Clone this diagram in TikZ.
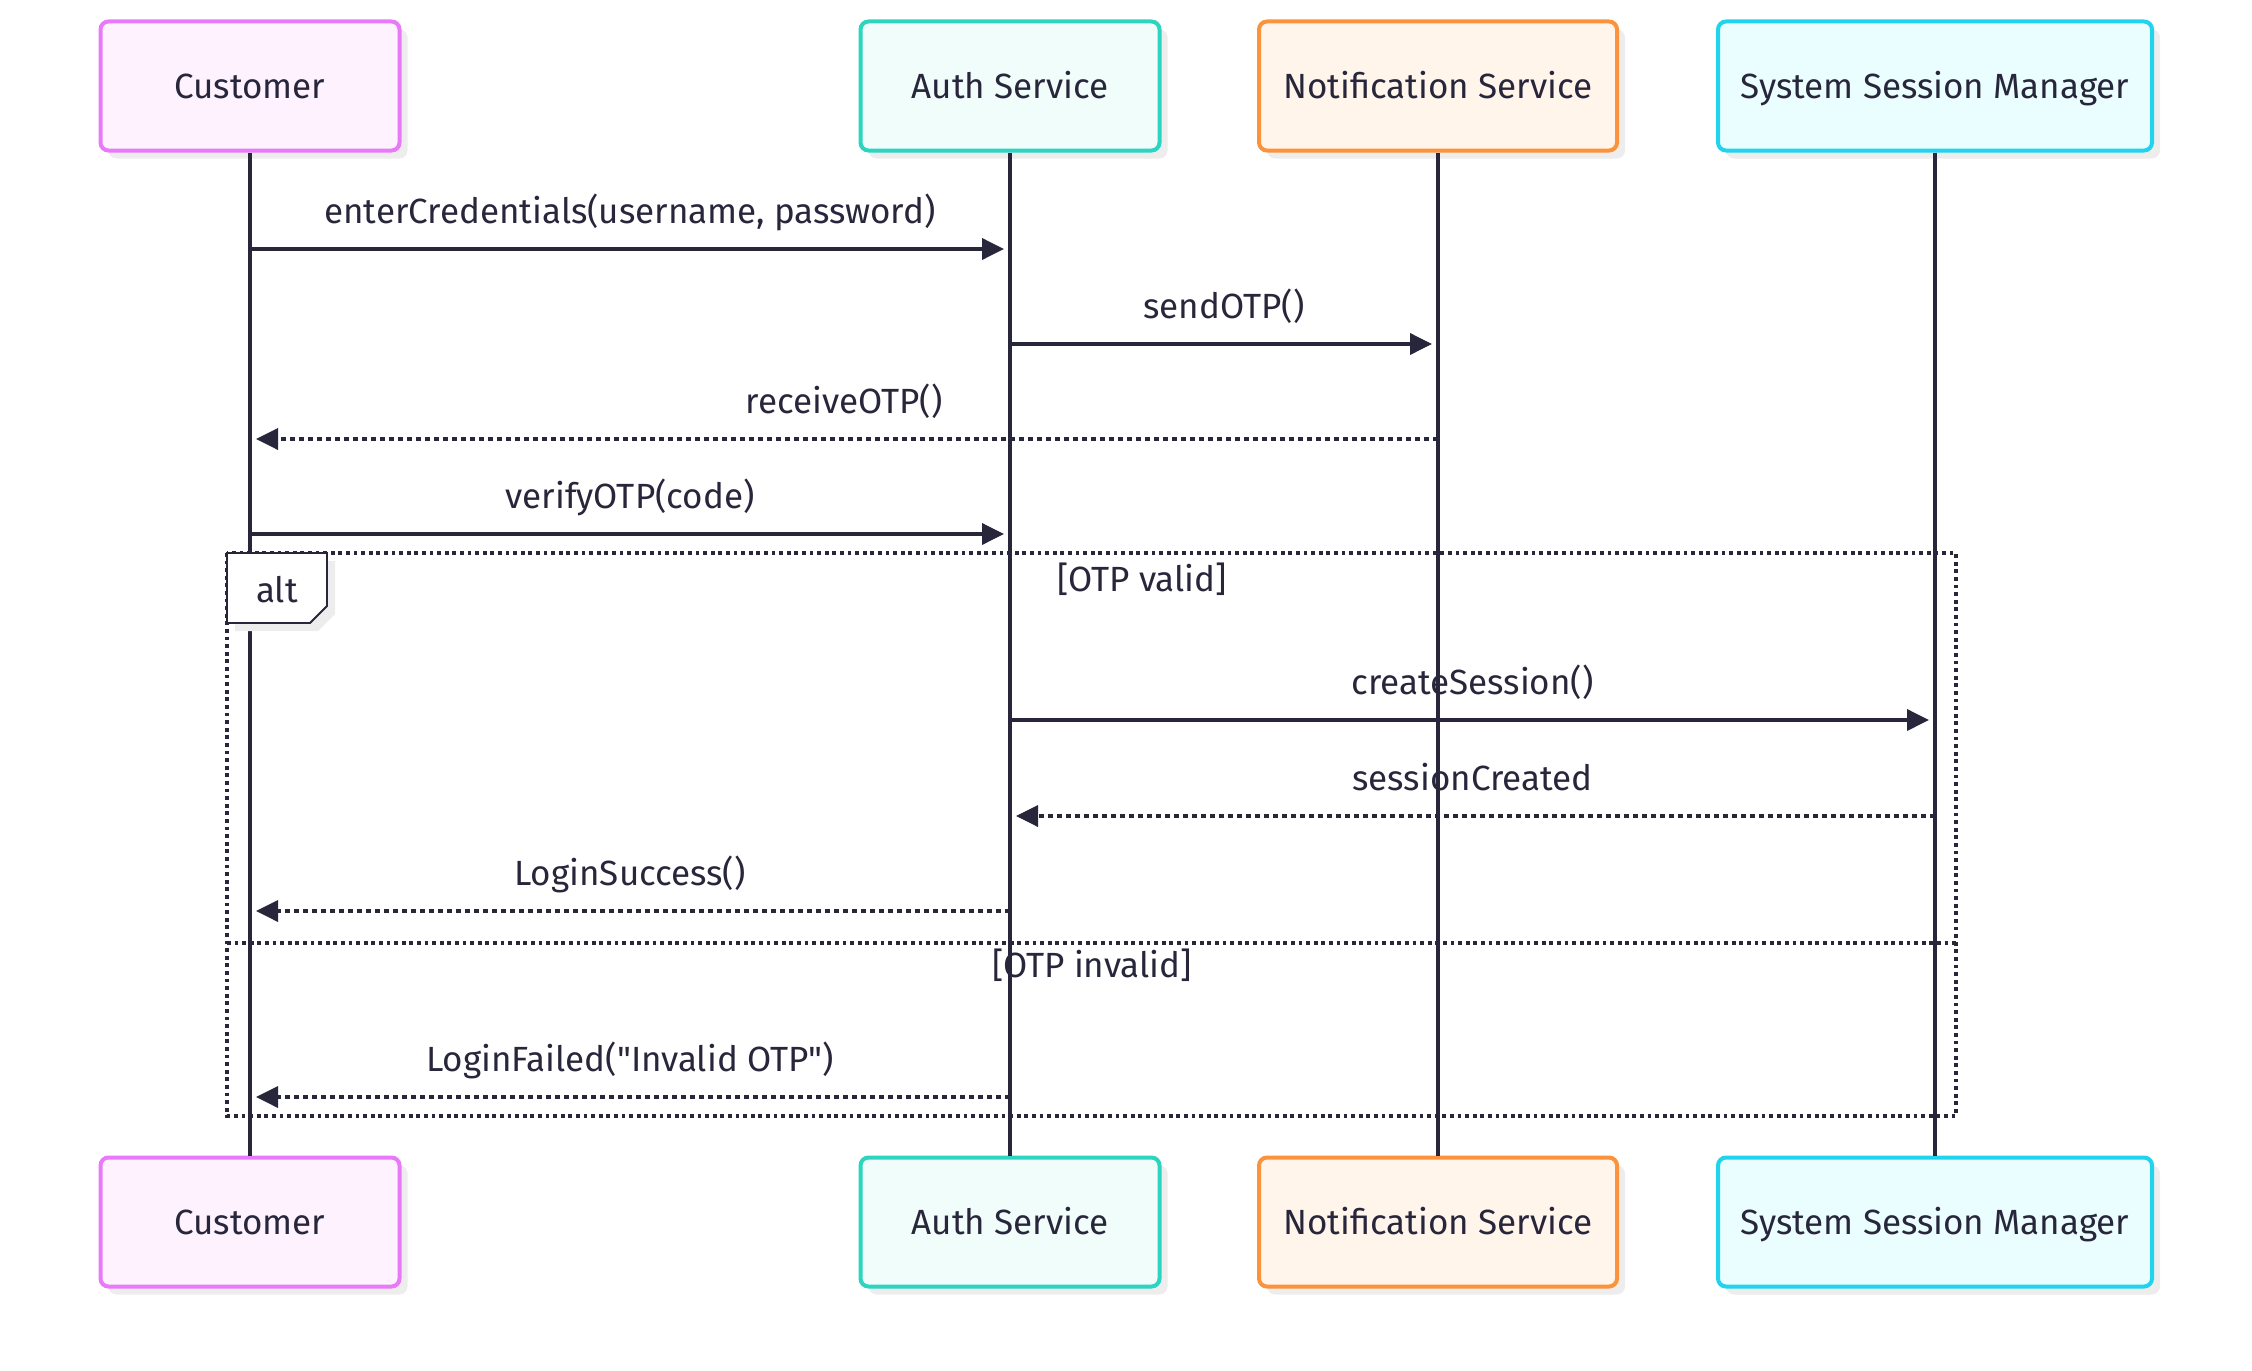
\documentclass[tikz,border=0pt]{standalone}
\usepackage{fontspec}
\setmainfont{Fira Sans}
\usetikzlibrary{positioning, arrows.meta, shadows}

\definecolor{ink}{HTML}{28263B}
\definecolor{custline}{HTML}{E879F9}
\definecolor{custfill}{HTML}{FDF2FE}
\definecolor{authline}{HTML}{2DD4BF}
\definecolor{authfill}{HTML}{F0FDFA}
\definecolor{notifline}{HTML}{FB923C}
\definecolor{notiffill}{HTML}{FFF5EB}
\definecolor{ssmline}{HTML}{22D3EE}
\definecolor{ssmfill}{HTML}{EBFEFF}

\begin{document}
\begin{tikzpicture}[x=0.5pt,y=-0.5pt,>={Triangle[length=11pt,width=10.5pt]},line width=1.8pt,ink,font=\fontsize{17.5}{21}\selectfont]
\tikzstyle{actor}=[draw,line width=2pt,rounded corners=4pt,minimum height=64.5pt,text height=12pt,text depth=0pt,text=ink,drop shadow={shadow xshift=4pt,shadow yshift=-4pt,fill=black!7,opacity=1}]
\tikzstyle{lbl}=[anchor=base,yshift=13pt,text=ink]
\tikzstyle{reply}=[dash pattern=on 2.6pt off 1.9pt]
\tikzstyle{frame}=[line width=1.6pt,dash pattern=on 1.9pt off 1.9pt]
\useasboundingbox (0,0) rectangle (2252,1370);

% participants
\node[actor,draw=custline,fill=custfill,minimum width=149.5pt] (cust) at (250,86) {Customer};
\node[actor,draw=authline,fill=authfill,minimum width=149.5pt] (auth) at (1010,86) {Auth Service};
\node[actor,draw=notifline,fill=notiffill,minimum width=179pt] (notif) at (1438,86) {Notification Service};
\node[actor,draw=ssmline,fill=ssmfill,minimum width=217pt] (ssm) at (1935,86) {System Session Manager};

\node[actor,draw=custline,fill=custfill,minimum width=149.5pt] (custB) at (250,1222) {Customer};
\node[actor,draw=authline,fill=authfill,minimum width=149.5pt] (authB) at (1010,1222) {Auth Service};
\node[actor,draw=notifline,fill=notiffill,minimum width=179pt] (notifB) at (1438,1222) {Notification Service};
\node[actor,draw=ssmline,fill=ssmfill,minimum width=217pt] (ssmB) at (1935,1222) {System Session Manager};

% lifelines
\draw (cust) -- (custB);
\draw (auth) -- (authB);
\draw (notif) -- (notifB);
\draw (ssm) -- (ssmB);

% alt frame
\draw[frame] (227,553) rectangle (1956,1116);
\draw[frame] (227,943) -- (1956,943);
\draw[fill=white,line width=0.9pt,drop shadow={shadow xshift=4pt,shadow yshift=-4pt,fill=black!7,opacity=1}]
  (227,553) -- (327,553) -- (327,606) -- (310,623) -- (227,623) -- cycle;
\node (alttag) at (277,590) {alt};
\node (valid) at (1142,579) {[OTP valid]};
\node (invalid) at (1092,965) {[OTP invalid]};

% messages
\foreach \n/\y in {1/249,2/344,3/439,4/534,5/720,6/816,7/911,8/1097}
  \coordinate (m\n) at (0,\y);

\path[->,shorten >=3pt]
(cust |- m1) edge node[lbl]{enterCredentials(username, password)} (auth |- m1)
(auth |- m2) edge node[lbl]{sendOTP()} (notif |- m2)
(notif |- m3) edge[reply] node[lbl]{receiveOTP()} (cust |- m3)
(cust |- m4) edge node[lbl]{verifyOTP(code)} (auth |- m4)
(auth |- m5) edge node[lbl]{createSession()} (ssm |- m5)
(ssm |- m6) edge[reply] node[lbl]{sessionCreated} (auth |- m6)
(auth |- m7) edge[reply] node[lbl]{LoginSuccess()} (cust |- m7)
(auth |- m8) edge[reply] node[lbl]{LoginFailed(\textquotedbl Invalid OTP\textquotedbl)} (cust |- m8);
\end{tikzpicture}
\end{document}
